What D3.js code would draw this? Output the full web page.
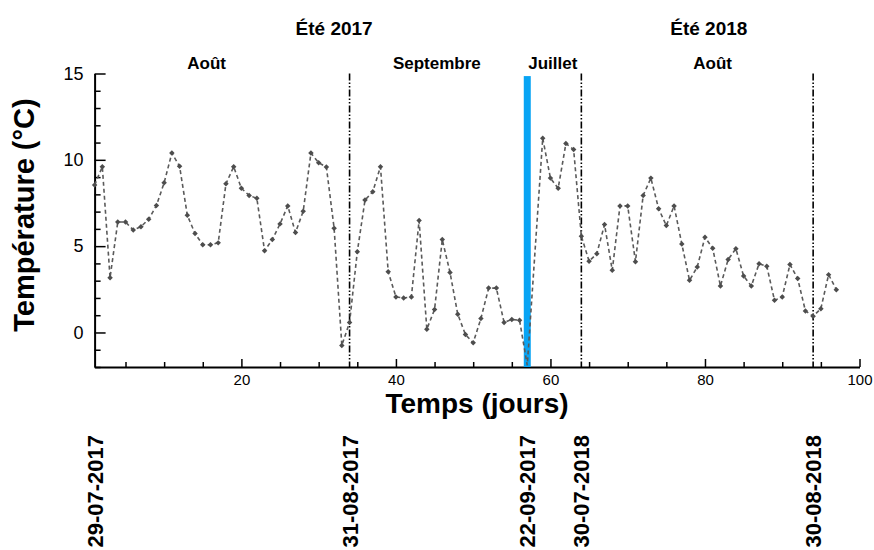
<!DOCTYPE html>
<html>
<head>
<meta charset="utf-8">
<script src="https://cdn.jsdelivr.net/npm/d3@7"></script>
<style>
  html, body { margin: 0; padding: 0; background: #fff; }
  svg { display: block; }
  text { font-family: "Liberation Sans", Arial, Helvetica, sans-serif; fill: #000; }
</style>
</head>
<body>
<svg id="chart" width="874" height="550"></svg>
<script>
// Daily temperature series (day index and °C)
const days = [
  1, 2, 3, 4, 5, 6, 7, 8, 9, 10,
  11, 12, 13, 14, 15, 16, 17, 18, 19, 20,
  21, 22, 23, 24, 25, 26, 27, 28, 29, 30,
  31, 32, 33, 34, 35, 36, 37, 38, 39, 40,
  41, 42, 43, 44, 45, 46, 47, 48, 49, 50,
  51, 52, 53, 54, 55, 56, 57, 59, 60,
  61, 62, 63, 64, 65, 66, 67, 68, 69, 70,
  71, 72, 73, 74, 75, 76, 77, 78, 79, 80,
  81, 82, 83, 84, 85, 86, 87, 88, 89, 90,
  91, 92, 93, 94, 95, 96, 97
];
const temps = [
  8.54, 9.6, 3.17, 6.4, 6.4, 5.94, 6.13, 6.56, 7.35, 8.67,
  10.39, 9.63, 6.79, 5.73, 5.08, 5.08, 5.19, 8.61, 9.6, 8.35,
  7.94, 7.77, 4.73, 5.38, 6.29, 7.33, 5.79, 7.02, 10.39, 9.83,
  9.58, 6.04, -0.75, 0.58, 4.67, 7.67, 8.15, 9.6, 3.52, 2.06,
  2.0, 2.06, 6.48, 0.19, 1.33, 5.38, 3.48, 1.06, -0.12, -0.6,
  0.81, 2.57, 2.57, 0.58, 0.75, 0.71, -1.9, 11.25, 8.94,
  8.35, 10.94, 10.6, 5.58, 4.13, 4.56, 6.25, 3.6, 7.33, 7.33,
  4.1, 7.94, 8.94, 7.17, 6.19, 7.33, 5.13, 3.02, 3.79, 5.52,
  4.88, 2.69, 4.23, 4.85, 3.27, 2.69, 3.98, 3.84, 1.86, 2.06,
  3.94, 3.12, 1.25, 0.94, 1.38, 3.35, 2.48
];

// Axis ticks
const xMajorTicks = [20, 40, 60, 80, 100];
const xMinorTicks = [5, 10, 15, 25, 30, 35, 45, 50, 55, 65, 70, 75, 85, 90, 95];
const yMajorTicks = [0, 5, 10, 15];
const yMinorTicks = [-2, -1, 1, 2, 3, 4, 6, 7, 8, 9, 11, 12, 13, 14];

// Period boundaries (dash-dot) and the break between the two summers
const boundaryDays = [34, 64, 94];
const breakDay = 57;

// Dates written under each boundary
const dateDays = [1, 34, 57, 64, 94];
const dateLabels = ["29-07-2017", "31-08-2017", "22-09-2017", "30-07-2018", "30-08-2018"];

// Header labels: season and month, placed at a day position
const seasonDays = [32, 80.5];
const seasonLabels = ["Été 2017", "Été 2018"];
const monthDays = [15.5, 45.3, 60.3, 81];
const monthLabels = ["Août", "Septembre", "Juillet", "Août"];

const svg = d3.select("#chart");

const x = d3.scaleLinear().domain([1, 100]).range([94.6, 859.5]);
const y = d3.scaleLinear().domain([-2, 15]).range([367, 73.5]);

const data = days.map((d, i) => ({ day: d, t: temps[i] }));

// Axes
const xAxisG = svg.append("g").attr("transform", `translate(0,${y(-2)})`);
xAxisG.call(d3.axisBottom(x).tickValues(xMajorTicks).tickSizeInner(-8).tickSizeOuter(0).tickPadding(7));
const xMinorG = svg.append("g").attr("transform", `translate(0,${y(-2)})`);
xMinorG.call(d3.axisBottom(x).tickValues(xMinorTicks).tickSizeInner(-5).tickSizeOuter(0).tickFormat(""));
xMinorG.select(".domain").remove();

const yAxisG = svg.append("g").attr("transform", `translate(${x(1)},0)`);
yAxisG.call(d3.axisLeft(y).tickValues(yMajorTicks).tickSizeInner(-11).tickSizeOuter(0).tickPadding(11));
const yMinorG = svg.append("g").attr("transform", `translate(${x(1)},0)`);
yMinorG.call(d3.axisLeft(y).tickValues(yMinorTicks).tickSizeInner(-6).tickSizeOuter(0).tickFormat(""));
yMinorG.select(".domain").remove();

svg.selectAll(".domain").attr("stroke", "#000").attr("stroke-width", 2);
svg.selectAll(".tick line").attr("stroke", "#000").attr("stroke-width", 1.5);
xAxisG.selectAll(".tick text").attr("font-size", 15).attr("font-family", "Liberation Sans, Arial, sans-serif");
yAxisG.selectAll(".tick text").attr("font-size", 18).attr("font-family", "Liberation Sans, Arial, sans-serif");

// Boundary lines
svg.append("g").selectAll("line").data(boundaryDays).join("line")
  .attr("x1", d => x(d)).attr("x2", d => x(d))
  .attr("y1", y(15)).attr("y2", y(-2))
  .attr("stroke", "#000").attr("stroke-width", 1.6)
  .attr("stroke-dasharray", "7,2,1.5,2,1.5,2");

// Break bar
svg.append("rect")
  .attr("x", x(breakDay) - 3.5).attr("width", 7)
  .attr("y", y(14.85)).attr("height", y(-2) - y(14.85))
  .attr("fill", "#08a4f4");

// Temperature line and markers
const line = d3.line().x(d => x(d.day)).y(d => y(d.t));
svg.append("path").datum(data)
  .attr("d", line)
  .attr("fill", "none").attr("stroke", "#5a5a5a").attr("stroke-width", 1.6)
  .attr("stroke-dasharray", "4,3");

svg.append("g").selectAll("path").data(data.filter(d => d.day !== breakDay)).join("path")
  .attr("d", d3.symbol().type(d3.symbolSquare).size(15))
  .attr("transform", d => `translate(${x(d.day)},${y(d.t)}) rotate(45)`)
  .attr("fill", "#4d4d4d");

// Axis titles
svg.append("text")
  .attr("x", 477).attr("y", 413)
  .attr("text-anchor", "middle")
  .attr("font-size", 28).attr("font-weight", "bold")
  .text("Temps (jours)");

svg.append("text")
  .attr("transform", "translate(34,215) rotate(-90)")
  .attr("text-anchor", "middle")
  .attr("font-size", 29).attr("font-weight", "bold")
  .text("Température (°C)");

// Header labels
svg.append("g").selectAll("text").data(seasonLabels).join("text")
  .attr("x", (d, i) => x(seasonDays[i])).attr("y", 35)
  .attr("text-anchor", "middle")
  .attr("font-size", 19).attr("font-weight", "bold")
  .text(d => d);

svg.append("g").selectAll("text").data(monthLabels).join("text")
  .attr("x", (d, i) => x(monthDays[i])).attr("y", 69)
  .attr("text-anchor", "middle")
  .attr("font-size", 17).attr("font-weight", "bold")
  .text(d => d);

// Dates under the boundaries
svg.append("g").selectAll("text").data(dateLabels).join("text")
  .attr("transform", (d, i) => `translate(${x(dateDays[i]) + 8},435) rotate(-90)`)
  .attr("text-anchor", "end")
  .attr("font-size", 22).attr("font-weight", "bold")
  .text(d => d);
</script>
</body>
</html>
